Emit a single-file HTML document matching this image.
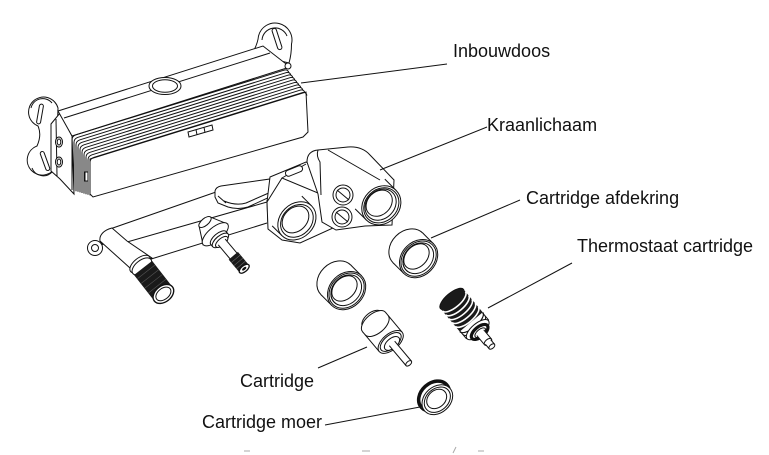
<!DOCTYPE html>
<html><head><meta charset="utf-8"><style>
html,body{margin:0;padding:0;background:#fff;width:769px;height:455px;overflow:hidden}
svg{display:block}
.l{fill:none;stroke:#111;stroke-width:1}
.w{fill:#fff;stroke:#111;stroke-width:1}
.d{fill:#1a1a1a;stroke:#111;stroke-width:1}
text{font-family:"Liberation Sans",Arial,sans-serif;font-size:18px;fill:#111}
</style></head><body>
<svg width="769" height="455" viewBox="0 0 769 455" xmlns="http://www.w3.org/2000/svg">
<rect width="769" height="455" fill="#fff"/>

<!-- ===== INBOUWDOOS ===== -->
<path class="w" d="M252,54 C256,47 258,42 258.5,36 A16.5 16.5 0 1 1 291.5,44 C291.5,50 291,56 289,63 Z"/>
<path class="l" d="M262,40 A13 13 0 0 1 287,36"/>
<rect class="w" x="-2.2" y="-11" width="4.4" height="22" rx="2.2" transform="translate(277,39) rotate(-18)"/>
<path class="w" d="M58,108 A15 15 0 1 0 38,126 Q42,135 37,146 A15 15 0 1 0 56,166 L58,108 Z"/>
<path class="l" d="M31,108 A12 12 0 0 1 52,103 M32,168 A12 12 0 0 0 52,172"/>
<rect class="w" x="-2" y="-10" width="4" height="20" rx="2" transform="translate(40,114) rotate(10)"/>
<rect class="w" x="-2" y="-10" width="4" height="20" rx="2" transform="translate(45,161) rotate(-20)"/>
<polygon class="w" points="51,124 60,113 72,136 74,194 60,179 51,171"/>
<path class="l" d="M56,119 L57,176"/>
<ellipse class="w" cx="59" cy="142" rx="3.5" ry="5"/><ellipse class="l" cx="59" cy="142" rx="1.8" ry="3"/>
<ellipse class="w" cx="59" cy="162" rx="3.5" ry="5"/><ellipse class="l" cx="59" cy="162" rx="1.8" ry="3"/>
<polygon class="w" points="58,111 263,46 290,67 72,136"/>
<path class="l" d="M64,118 L270,53"/>
<ellipse class="w" cx="165" cy="86" rx="16" ry="8.5"/>
<ellipse class="l" cx="165" cy="86" rx="12.5" ry="6.3"/>
<circle class="w" cx="288" cy="66" r="3"/>
<polygon class="w" points="90,159 306,92 308,132 303,137 93,197 90,194"/>
<g class="l" stroke-width="1.3">
<path d="M72,190 L72,140 Q72,136 76,134.8 L284,70.2 Q288,69 289,73"/>
<path d="M74,190.6 L74,142.5 Q74,138.5 78,137.3 L286,72.7 Q290,71.5 291,75.5"/>
<path d="M76,191.2 L76,145 Q76,141 80,139.8 L288,75.2 Q292,74 293,78"/>
<path d="M78,191.8 L78,147.5 Q78,143.5 82,142.3 L290,77.7 Q294,76.5 295,80.5"/>
<path d="M80,192.4 L80,150 Q80,146 84,144.8 L292,80.2 Q296,79 297,83"/>
<path d="M82,193 L82,152.5 Q82,148.5 86,147.3 L294,82.7 Q298,81.5 299,85.5"/>
<path d="M84,193.6 L84,155 Q84,151 88,149.8 L296,85.2 Q300,84 301,88"/>
<path d="M86,194.2 L86,157.5 Q86,153.5 90,152.3 L298,87.7 Q302,86.5 303,90.5"/>
<path d="M88,194.8 L88,160 Q88,156 92,154.8 L300,90.2 Q304,89 305,93"/>
<path d="M90,195.4 L90,162.5 Q90,158.5 94,157.3 L302,92.7 Q306,91.5 307,95.5"/>
</g>
<rect class="w" x="85" y="172" width="3" height="9"/>
<polygon class="w" points="188,132 212,125 213,130 189,137"/>
<path class="l" d="M196,129.5 L197,134.8 M204,127.3 L205,132.6"/>

<!-- ===== KRAANLICHAAM ===== -->
<polygon fill="#fff" points="110,229 230,188 268,176 268,225 148,262"/>
<path class="l" d="M110,229 L216,192 M127,242 L267,202 M148,260 L267,223 M267,200 L268,225"/>
<path class="w" d="M215,197 L215,191 Q216,187 221,186 L270,179 L272,196 L248,207 Q238,210 228,207 L218,203 Z"/>
<path class="l" d="M218,196 L226,203 M224,201 Q236,206 246,203 L271,192"/>
<polygon class="w" points="267,202 270,177 306,162 318,167 321,195 333,228 300,243 282,240 268,229"/>
<path class="l" d="M267,202 L282,178 L318,193 L332,228 M282,178 L306,164"/>
<rect class="w" x="-9" y="-3" width="18" height="6" rx="3" transform="translate(294,171) rotate(-22)"/>
<path class="w" d="M307,162 Q307,151 318,150 L348,147 Q362,146 370,155 L394,180 L392,225 L365,226 L336,230 L322,222 L318,194 Z"/>
<path class="l" d="M328,150 L380,180 M318,150 Q316,156 320,162 L321,195"/>
<g transform="translate(370,194) rotate(45)">
<rect x="0" y="-21" width="16" height="42" fill="#fff"/>
<path class="l" d="M0,-21H16M0,21H16"/>
<ellipse class="w" cx="16" rx="18" ry="21"/>
<ellipse class="l" cx="16" rx="16" ry="19"/>
<ellipse class="l" cx="15" rx="14" ry="17" stroke-width="3"/>
<ellipse class="l" cx="13" rx="11.5" ry="14.5"/>
</g>
<circle class="w" cx="343" cy="195" r="10"/><circle class="l" cx="343" cy="195" r="7"/><path class="l" d="M337,190 L349,200"/>
<circle class="w" cx="342" cy="217" r="10"/><circle class="l" cx="342" cy="217" r="7"/><path class="l" d="M336,212 L348,222"/>
<g transform="translate(287,211) rotate(45)">
<rect x="0" y="-21" width="14" height="42" fill="#fff"/>
<path class="l" d="M0,-21H14M0,21H14"/>
<ellipse class="w" cx="14" rx="17" ry="21"/>
<ellipse class="l" cx="14" rx="14.5" ry="18" stroke-width="3.5"/>
<ellipse class="l" cx="12" rx="11.5" ry="15"/>
</g>
<circle class="w" cx="95" cy="248" r="7.5"/><circle class="l" cx="95" cy="248" r="3.5"/>
<path class="w" d="M112,228 C104,230 99,235 100,241 L130,268 L152,258 L127,241 Z"/>
<path class="l" d="M100,241 L103,245"/>
<g transform="translate(140,264) rotate(52)">
<ellipse class="w" cx="0" rx="6" ry="12"/>
<ellipse class="w" cx="3" rx="6" ry="11.5"/>
<rect x="5" y="-11.5" width="33" height="23" fill="#1a1a1a"/>
<path d="M10,-11 V11 M16,-11 V11 M22,-11 V11 M28,-11 V11 M34,-11 V11" stroke="#555" stroke-width="0.6"/>
<ellipse cx="38" rx="8" ry="11.5" fill="#fff" stroke="#111" stroke-width="1.4"/>
<ellipse class="l" cx="38" rx="5.5" ry="8.5"/>
</g>
<g transform="translate(205,222) rotate(50)">
<path class="w" d="M0,-7.5 L16,-16 L16,16 L0,7.5 Z"/>
<ellipse class="w" cx="0" rx="3.5" ry="7.5"/>
<rect x="16" y="-10" width="8" height="20" fill="#fff"/>
<path class="l" d="M16,-10H24M16,10H24"/>
<ellipse class="w" cx="16" rx="7" ry="16"/>
<ellipse class="w" cx="21" rx="4.5" ry="10"/>
<ellipse class="w" cx="24" rx="4.5" ry="10"/>
<ellipse class="w" cx="26" rx="3.5" ry="7.5"/>
<rect x="26" y="-4.5" width="20" height="9" fill="#fff"/>
<path class="l" d="M26,-4.5H46M26,4.5H46"/>
<rect x="44" y="-6" width="17" height="12" fill="#1a1a1a"/>
<path d="M48,-6V6M52,-6V6M56,-6V6" stroke="#666" stroke-width="0.6"/>
<ellipse cx="61" rx="3" ry="6" fill="#fff" stroke="#111" stroke-width="1.3"/>
<ellipse cx="61" rx="1.2" ry="2.5" fill="#111"/>
</g>

<!-- ===== LOOSE PARTS ===== -->
<g transform="translate(336,280) rotate(45)">
<ellipse class="w" rx="17" ry="21"/>
<rect x="0" y="-21" width="15" height="42" fill="#fff"/>
<path class="l" d="M0,-21H15M0,21H15"/>
<ellipse class="w" cx="15" rx="17" ry="21"/>
<ellipse class="l" cx="15" rx="15.5" ry="19.5"/>
<ellipse class="l" cx="14.5" rx="13.5" ry="17" stroke-width="2"/>
<path class="l" stroke-width="3" d="M19.1,16 A13.5 17 0 0 1 4.2,-10.9"/>
<ellipse class="l" cx="12" rx="10.5" ry="14.5"/>
</g>
<g transform="translate(408,248) rotate(45)">
<ellipse class="w" rx="17" ry="21"/>
<rect x="0" y="-21" width="15" height="42" fill="#fff"/>
<path class="l" d="M0,-21H15M0,21H15"/>
<ellipse class="w" cx="15" rx="17" ry="21"/>
<ellipse class="l" cx="15" rx="15.5" ry="19.5"/>
<ellipse class="l" cx="14.5" rx="13.5" ry="17" stroke-width="2"/>
<path class="l" stroke-width="3" d="M19.1,16 A13.5 17 0 0 1 4.2,-10.9"/>
<ellipse class="l" cx="12" rx="10.5" ry="14.5"/>
</g>
<g transform="translate(374,322) rotate(50)">
<ellipse class="w" cx="-3" rx="7" ry="12"/>
<ellipse class="w" rx="8" ry="15"/>
<rect x="0" y="-15" width="26" height="30" fill="#fff"/>
<path class="l" d="M0,-15H26M0,15H26"/>
<path class="l" d="M4,-15 A8 15 0 0 1 4,15"/>
<ellipse class="w" cx="26" rx="8" ry="15"/>
<ellipse class="l" cx="26" rx="6.5" ry="12.5"/>
<ellipse class="w" cx="28" rx="5" ry="9"/>
<rect x="28" y="-3.5" width="26" height="7" fill="#fff"/>
<path class="l" d="M28,-3.5H54M28,3.5H54"/>
<ellipse class="w" cx="54" rx="2" ry="3.5"/>
</g>
<g transform="translate(452,299) rotate(50)">
<ellipse rx="6" ry="15" fill="#1a1a1a" stroke="#111"/>
<rect x="0" y="-15" width="30" height="30" fill="#1a1a1a"/>
<path d="M3,-15A6 15 0 0 1 3,15M8,-15A6 15 0 0 1 8,15M13,-15A6 15 0 0 1 13,15M18,-15A6 15 0 0 1 18,15M23,-15A6 15 0 0 1 23,15" fill="none" stroke="#fff" stroke-width="1.6"/>
<rect x="30" y="-14.5" width="10" height="29" fill="#fff"/>
<path class="l" d="M30,-14.5H40M30,14.5H40"/>
<path d="M30,-15A6 15 0 0 1 30,15" fill="none" stroke="#111" stroke-width="1.2"/>
<path class="l" d="M34,-14.5A6 14.5 0 0 1 34,14.5"/>
<ellipse class="w" cx="40" rx="6" ry="14"/>
<ellipse cx="43" rx="5" ry="10" fill="#fff" stroke="#111" stroke-width="3.2"/>
<ellipse class="l" cx="44" rx="3.2" ry="6.5"/>
<rect x="44" y="-4.5" width="12" height="9" fill="#fff"/>
<path class="l" d="M44,-4.5H56M44,4.5H56"/>
<ellipse class="w" cx="56" rx="2.5" ry="4.5"/>
<rect x="56" y="-3.5" width="6" height="7" fill="#fff"/>
<path class="l" d="M56,-3.5H62M56,3.5H62"/>
<ellipse class="w" cx="62" rx="2" ry="3.5"/>
</g>
<g transform="translate(434,396) rotate(48)">
<ellipse rx="13" ry="17" fill="#fff" stroke="#111" stroke-width="3.5"/>
<rect x="0" y="-17" width="5" height="34" fill="#fff"/>
<path class="l" d="M0,-17H5M0,17H5"/>
<ellipse class="w" cx="5" rx="13" ry="17"/>
<ellipse class="l" cx="5" rx="11" ry="14.5"/>
<ellipse class="l" cx="4" rx="8.5" ry="11"/>
</g>

<!-- ===== LEADERS ===== -->
<g class="l">
<path d="M447,64 L301,83"/>
<path d="M487,127 L380,170"/>
<path d="M520,200 L431,238"/>
<path d="M572,263 L488,308"/>
<path d="M318,368 L367,347"/>
<path d="M325,425 L420,407"/>
</g>

<!-- ===== LABELS ===== -->
<text x="453" y="57">Inbouwdoos</text>
<text x="487" y="131">Kraanlichaam</text>
<text x="526" y="204">Cartridge afdekring</text>
<text x="577" y="252">Thermostaat cartridge</text>
<text x="240" y="387">Cartridge</text>
<text x="202" y="428">Cartridge moer</text>

<g stroke="#aaa" stroke-width="1">
<path d="M244,451 H250 M362,451 H370 M453,453 L456,447 M478,451 H484"/>
</g>
</svg>
</body></html>
